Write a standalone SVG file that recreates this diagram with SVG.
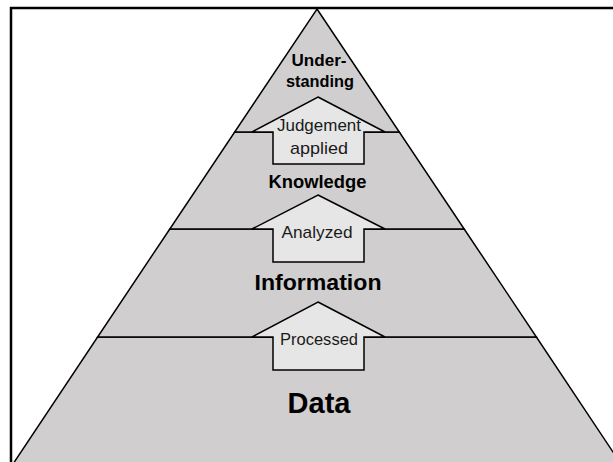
<svg xmlns="http://www.w3.org/2000/svg" width="613" height="462" viewBox="0 0 613 462">
<style>
.band{fill:#d0cece;stroke:#000;stroke-width:1.5;stroke-linejoin:miter}
.arrow{fill:#e7e6e6;stroke:#000;stroke-width:1.5;stroke-linejoin:miter}
.lvl{font-family:"Liberation Sans",Arial,sans-serif;font-weight:bold;fill:#000;text-anchor:middle}
.lab{font-family:"Liberation Sans",Arial,sans-serif;fill:#1a1a1a;text-anchor:middle;font-size:17px}
</style>
<rect x="0" y="0" width="613" height="462" fill="#fff"/>
<g id="level-data">
<polygon class="band" points="97.6,337 536.4,337 625,470 9,470"/>
<text class="lvl" x="319" y="413" font-size="29">Data</text>
</g>
<g id="level-information">
<polygon class="band" points="169.8,229 464.2,229 536.4,337 97.6,337"/>
<text class="lvl" x="318" y="290" font-size="22" textLength="127" lengthAdjust="spacingAndGlyphs">Information</text>
</g>
<g id="level-knowledge">
<polygon class="band" points="234.7,132 399.3,132 464.2,229 169.8,229"/>
<text class="lvl" x="317.5" y="188" font-size="18" textLength="98" lengthAdjust="spacingAndGlyphs">Knowledge</text>
</g>
<g id="level-understanding">
<polygon class="band" points="317,9 399.3,132 234.7,132"/>
<text class="lvl" x="319" y="66" font-size="17" textLength="55" lengthAdjust="spacingAndGlyphs">Under-</text>
<text class="lvl" x="320" y="87" font-size="17" textLength="68" lengthAdjust="spacingAndGlyphs">standing</text>
</g>
<g id="connectors">
<g id="arrow-processed">
<polygon class="arrow" points="318,302 385,337 364,337 364,370 273,370 273,337 252,337"/>
<text class="lab" x="319" y="345" textLength="78" lengthAdjust="spacingAndGlyphs">Processed</text>
</g>
<g id="arrow-analyzed">
<polygon class="arrow" points="318,195 385,229 364,229 364,262 273,262 273,229 252,229"/>
<text class="lab" x="317" y="238" textLength="71" lengthAdjust="spacingAndGlyphs">Analyzed</text>
</g>
<g id="arrow-judgement">
<polygon class="arrow" points="318,97 385,132 364,132 364,164 273,164 273,132 252,132"/>
<text class="lab" x="319" y="131" textLength="84" lengthAdjust="spacingAndGlyphs">Judgement</text>
<text class="lab" x="319" y="154" textLength="58" lengthAdjust="spacingAndGlyphs">applied</text>
</g>
</g>
<rect x="11" y="8" width="640" height="500" fill="none" stroke="#000" stroke-width="2.5"/>
</svg>
